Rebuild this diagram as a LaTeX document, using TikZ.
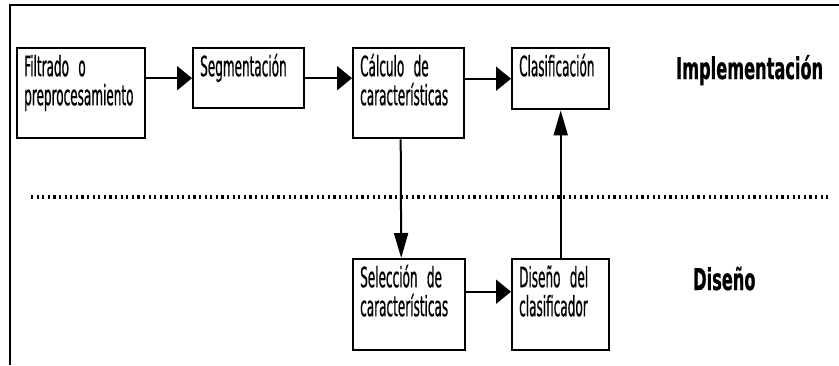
\documentclass[tikz,border=0pt]{standalone}
\usepackage{fontspec}
\usetikzlibrary{arrows.meta}
\newfontfamily\boxfont[FakeStretch=0.43,FakeBold=0.6]{DejaVu Sans}
\newfontfamily\tagfont[FakeStretch=0.54,FakeBold=0.6]{DejaVu Sans}
\newcommand\boxtext{\boxfont\fontsize{28}{29}\selectfont\fontdimen2\font=4.5pt\relax}

\begin{document}
\begin{tikzpicture}[x=1pt,y=-1pt,
		blk/.style={draw, line width=2.4pt, anchor=north west, align=left,
			inner xsep=7pt, inner ysep=7pt, text height=21pt, font=\boxtext},
		tag/.style={anchor=base west, inner sep=0pt,
			font=\tagfont\bfseries\fontsize{30}{34}\selectfont},
		harr/.style={line width=2pt, -{Triangle[length=15pt,width=24pt]}},
		varr/.style={line width=2pt, -{Triangle[length=25pt,width=14pt]}}]
				\useasboundingbox (0,0) rectangle (839,365);
				\draw [line width=2.4pt] (839,5) -- (10,5) -- (10,365);
				\draw [line width=4pt, dash pattern=on 2.2pt off 3.4pt] (31,197) -- (828,197);
				\node [blk, text width=114pt, text depth=55pt] (filtrado) at (16,47) {Filtrado o\\preprocesamiento};
				\node [blk, text width=97pt, text depth=25pt] (segm) at (192,47) {Segmentación};
				\node [blk, text width=97pt, text depth=55pt] (calculo) at (352,47) {Cálculo de\\características};
				\node [blk, text width=83pt, text depth=26pt] (clasif) at (511,47) {Clasificación};
				\node [blk, text width=98pt, text depth=56pt] (selec) at (352,258) {Selección de\\características};
				\node [blk, text width=83pt, text depth=56pt] (diseno) at (511,258) {Diseño del\\clasificador};
				\node [tag] (impl) at (676,79) {Implementación};
				\node [tag] (dis) at (693,290) {Diseño};
				\draw [harr] (filtrado.east |- segm.west) -- (segm.west);
				\draw [harr] (segm.east) -- (segm.east -| calculo.west);
				\draw [harr] (calculo.east |- clasif.west) -- (clasif.west);
				\draw [harr] ([yshift=13pt]selec.east) -- ([yshift=13pt]diseno.west);
				\draw [varr] ([xshift=-8pt]calculo.south) -- ([xshift=-8pt]selec.north);
				\draw [varr] (diseno.north -| clasif.south) -- (clasif.south);
\end{tikzpicture}
\end{document}
